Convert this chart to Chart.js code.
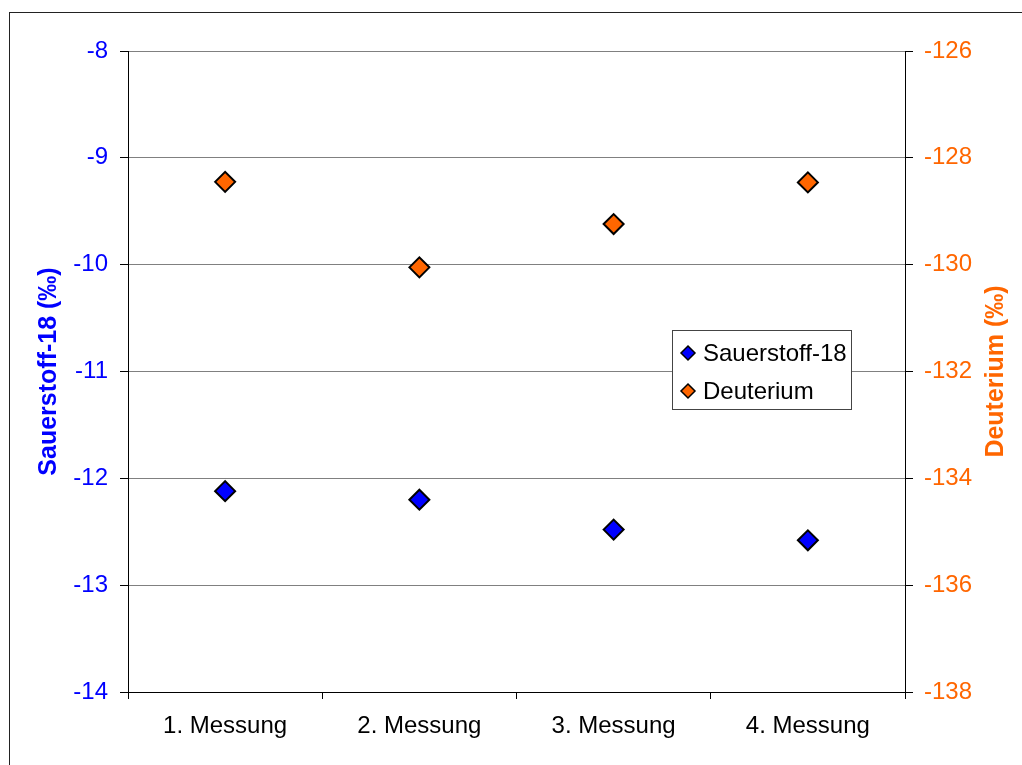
<!DOCTYPE html>
<html>
<head>
<meta charset="utf-8">
<script src="https://cdn.jsdelivr.net/npm/chart.js@4"></script>
<style>
  body { margin: 0; background: #fff; }
  canvas { display: block; }
</style>
</head>
<body>
<canvas id="myChart" width="1022" height="765"></canvas>
<script>
const messungen = ['1. Messung', '2. Messung', '3. Messung', '4. Messung'];
const sauerstoff18 = [-12.12, -12.2, -12.48, -12.58];
const deuterium = [-128.45, -130.05, -129.24, -128.46];
const sauerstoffRange = [-14, -8];
const deuteriumRange = [-138, -126];

const FONT = "'Liberation Sans', Arial, sans-serif";
Chart.defaults.font.family = FONT;
Chart.defaults.font.size = 24;

// white page + thin frame around the whole chart
const framePlugin = {
  id: 'frame',
  beforeDraw(chart) {
    const ctx = chart.ctx;
    ctx.save();
    ctx.fillStyle = '#fff';
    ctx.fillRect(0, 0, chart.width, chart.height);
    ctx.strokeStyle = '#222';
    ctx.lineWidth = 1;
    ctx.strokeRect(9.5, 12.5, chart.width + 20, chart.height + 20);
    ctx.restore();
  }
};

// right axis title, reading bottom to top like the left one
const rightTitlePlugin = {
  id: 'rightTitle',
  afterDraw(chart) {
    const ctx = chart.ctx;
    const area = chart.chartArea;
    ctx.save();
    ctx.translate(996, (area.top + area.bottom) / 2);
    ctx.rotate(-Math.PI / 2);
    ctx.fillStyle = '#ff6600';
    ctx.font = 'bold 25px ' + FONT;
    ctx.textAlign = 'center';
    ctx.textBaseline = 'middle';
    ctx.fillText('Deuterium (‰)', 0, 0);
    ctx.restore();
  }
};

// boxed legend sitting inside the plot
const legendBoxPlugin = {
  id: 'legendBox',
  afterDraw(chart) {
    const ctx = chart.ctx;
    const x = 672, y = 330, w = 179, h = 79;
    ctx.save();
    ctx.fillStyle = '#fff';
    ctx.fillRect(x, y, w, h);
    ctx.strokeStyle = '#444';
    ctx.lineWidth = 1;
    ctx.strokeRect(x + 0.5, y + 0.5, w, h);
    ctx.font = '24px ' + FONT;
    ctx.textBaseline = 'middle';
    chart.data.datasets.forEach(function (ds, i) {
      const cy = y + 23 + i * 38;
      ctx.fillStyle = ds.backgroundColor;
      ctx.strokeStyle = '#000';
      ctx.lineWidth = 1.5;
      ctx.beginPath();
      ctx.moveTo(x + 16, cy - 7);
      ctx.lineTo(x + 23, cy);
      ctx.lineTo(x + 16, cy + 7);
      ctx.lineTo(x + 9, cy);
      ctx.closePath();
      ctx.fill();
      ctx.stroke();
      ctx.fillStyle = '#000';
      ctx.fillText(ds.label, x + 31, cy + 1);
    });
    ctx.restore();
  }
};

const ctx = document.getElementById('myChart').getContext('2d');
const chart = new Chart(ctx, {
  type: 'line',
  data: {
    labels: messungen,
    datasets: [{
      label: 'Sauerstoff-18',
      data: sauerstoff18,
      yAxisID: 'y',
      showLine: false,
      pointStyle: 'rectRot',
      pointRadius: 10,
      pointBorderWidth: 2,
      borderColor: '#000',
      backgroundColor: '#0000ff'
    }, {
      label: 'Deuterium',
      data: deuterium,
      yAxisID: 'y1',
      showLine: false,
      pointStyle: 'rectRot',
      pointRadius: 10,
      pointBorderWidth: 2,
      borderColor: '#000',
      backgroundColor: '#ff6600'
    }]
  },
  options: {
    responsive: false,
    animation: false,
    layout: { padding: { top: 51, left: 0, right: 0, bottom: 0 } },
    plugins: {
      legend: { display: false },
      tooltip: { enabled: false }
    },
    scales: {
      x: {
        type: 'category',
        offset: true,
        grid: { drawOnChartArea: false, offset: true, tickLength: 7, tickColor: '#000' },
        border: { color: '#000' },
        ticks: { color: '#000', padding: 13 },
        afterFit: function (s) { s.height = 73; }
      },
      y: {
        position: 'left',
        min: sauerstoffRange[0],
        max: sauerstoffRange[1],
        ticks: { stepSize: 1, color: '#0000ff', padding: 12 },
        grid: { color: '#808080', tickColor: '#000', tickLength: 8 },
        border: { color: '#000' },
        title: {
          display: true,
          text: 'Sauerstoff-18 (‰)',
          color: '#0000ff',
          font: { weight: 'bold', size: 25 },
          padding: { top: 34, bottom: 0 }
        },
        afterFit: function (s) { s.width = 128; }
      },
      y1: {
        position: 'right',
        min: deuteriumRange[0],
        max: deuteriumRange[1],
        ticks: { stepSize: 2, color: '#ff6600', padding: 11 },
        grid: { drawOnChartArea: false, tickColor: '#000', tickLength: 8 },
        border: { color: '#000' },
        afterFit: function (s) { s.width = 117; }
      }
    }
  },
  plugins: [framePlugin, rightTitlePlugin, legendBoxPlugin]
});
</script>
</body>
</html>
